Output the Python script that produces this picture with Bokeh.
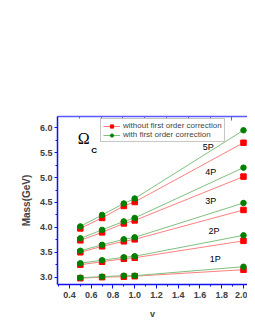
from bokeh.plotting import figure
from bokeh.models import (Range1d, LinearAxis, FixedTicker, PrintfTickFormatter,
                          Legend, LegendItem, Label, ColumnDataSource)
from bokeh.core.properties import value
from bokeh.embed import file_html
from bokeh.resources import INLINE

v = [0.5, 0.7, 0.9, 1.0, 2.0]
states = ["1P", "2P", "3P", "4P", "5P"]
without_corr = {
    "1P": [2.98, 3.00, 3.01, 3.02, 3.15],
    "2P": [3.25, 3.31, 3.37, 3.39, 3.73],
    "3P": [3.50, 3.62, 3.72, 3.76, 4.35],
    "4P": [3.74, 3.90, 4.08, 4.14, 5.02],
    "5P": [3.98, 4.19, 4.43, 4.51, 5.70],
}
with_corr = {
    "1P": [2.99, 3.01, 3.03, 3.03, 3.21],
    "2P": [3.28, 3.34, 3.40, 3.42, 3.84],
    "3P": [3.53, 3.65, 3.76, 3.80, 4.49],
    "4P": [3.78, 3.95, 4.12, 4.19, 5.20],
    "5P": [4.02, 4.25, 4.48, 4.58, 5.95],
}
label_x = [1.74, 1.73, 1.70, 1.70, 1.675]
label_y = [3.36, 3.92, 4.54, 5.12, 5.62]
x_major = [0.4, 0.6, 0.8, 1.0, 1.2, 1.4, 1.6, 1.8, 2.0]
x_minor = [0.3, 0.5, 0.7, 0.9, 1.1, 1.3, 1.5, 1.7, 1.9]
y_major = [3.0, 3.5, 4.0, 4.5, 5.0, 5.5, 6.0]
y_minor = [3.25, 3.75, 4.25, 4.75, 5.25, 5.75]
legend_labels = ["without first order correction", "with first order correction"]

FONT = "Liberation Sans"
BLUE = "#1010f0"

p = figure(frame_width=190, frame_height=168, output_backend="svg",
           toolbar_location=None,
           x_range=Range1d(0.29, 2.037), y_range=Range1d(2.853, 6.227),
           min_border_left=57, min_border_right=0, min_border_top=116,
           min_border_bottom=38, x_axis_type=None, y_axis_type=None,
           title=None)
p.outline_line_color = None
p.xgrid.visible = False
p.ygrid.visible = False
p.background_fill_color = "white"
p.border_fill_color = "white"

# bottom axis
xa = LinearAxis(ticker=FixedTicker(ticks=x_major, minor_ticks=x_minor),
                formatter=PrintfTickFormatter(format="%.1f"), axis_label="v")
xa.axis_line_color = BLUE
xa.axis_line_width = 1.5
xa.major_tick_line_color = BLUE
xa.minor_tick_line_color = BLUE
xa.major_tick_in = 0
xa.major_tick_out = 4
xa.minor_tick_in = 0
xa.minor_tick_out = 2
xa.major_label_standoff = 3
xa.major_label_text_font = FONT
xa.major_label_text_font_style = "bold"
xa.major_label_text_font_size = "9px"
xa.major_label_text_color = "#404040"
xa.axis_label_text_font = FONT
xa.axis_label_text_font_size = "9px"
xa.axis_label_text_font_style = "bold"
xa.axis_label_standoff = 8
p.add_layout(xa, "below")

# left axis
ya = LinearAxis(ticker=FixedTicker(ticks=y_major, minor_ticks=y_minor),
                formatter=PrintfTickFormatter(format="%.1f"),
                axis_label="Mass(GeV)")
ya.axis_line_color = BLUE
ya.axis_line_width = 1.5
ya.major_tick_line_color = BLUE
ya.minor_tick_line_color = BLUE
ya.major_tick_in = 0
ya.major_tick_out = 3
ya.minor_tick_in = 0
ya.minor_tick_out = 2
ya.major_label_standoff = 2
ya.major_label_text_font = FONT
ya.major_label_text_font_style = "bold"
ya.major_label_text_font_size = "9px"
ya.major_label_text_color = "#404040"
ya.axis_label_text_font = FONT
ya.axis_label_text_font_size = "10px"
ya.axis_label_text_font_style = "bold"
ya.axis_label_standoff = 5
p.add_layout(ya, "left")

# top axis (its own tick spacing, no labels)
p.extra_x_ranges = {"top": Range1d(0, 8.72)}
ta = LinearAxis(x_range_name="top",
                ticker=FixedTicker(ticks=[0, 2, 4, 6, 8], minor_ticks=[1, 3, 5, 7]))
ta.axis_line_color = "#5a5aff"
ta.axis_line_width = 1.5
ta.major_tick_line_color = "#5a5aff"
ta.minor_tick_line_color = "#5a5aff"
ta.major_tick_in = 4
ta.major_tick_out = 0
ta.minor_tick_in = 2
ta.minor_tick_out = 0
ta.major_label_text_font_size = "1px"
ta.major_label_text_alpha = 0
p.add_layout(ta, "above")

red_r = []
green_r = []
for s in states:
    l1 = p.line(v, without_corr[s], line_color="#ff8080", line_width=1)
    m1 = p.scatter(v, without_corr[s], marker="square", size=5.5,
                   fill_color="#ff0000", line_color="#ff0000")
    red_r.append((l1, m1))
for s in states:
    l2 = p.line(v, with_corr[s], line_color="#80c080", line_width=1)
    m2 = p.scatter(v, with_corr[s], marker="circle", size=5.5,
                   fill_color="#008000", line_color="#008000")
    green_r.append((l2, m2))

src = ColumnDataSource(dict(x=label_x, y=label_y, t=states))
p.text(x="x", y="y", text="t", source=src, text_font=value(FONT),
       text_font_size="9px", text_align="center", text_baseline="middle",
       text_color="black")

p.add_layout(Label(x=0.531, y=5.785, text="Ω", text_font="Liberation Serif",
                   text_font_size="16px", text_align="center",
                   text_baseline="middle", text_color="black"))
p.add_layout(Label(x=0.627, y=5.554, text="C", text_font=FONT,
                   text_font_size="8px", text_font_style="bold",
                   text_align="center", text_baseline="middle",
                   text_color="black"))

legend = Legend(items=[
    LegendItem(label=legend_labels[0], renderers=list(red_r[0])),
    LegendItem(label=legend_labels[1], renderers=list(green_r[0])),
], location=(43, 142))
legend.label_text_font = FONT
legend.label_text_font_size = "8px"
legend.label_height = 8
legend.glyph_height = 8
legend.glyph_width = 17
legend.label_standoff = 3
legend.spacing = 0
legend.padding = 2
legend.margin = 0
legend.border_line_color = "#909090"
legend.border_line_width = 1
legend.background_fill_alpha = 1
p.add_layout(legend, "center")

open("out.html", "w").write(file_html(p, INLINE))
